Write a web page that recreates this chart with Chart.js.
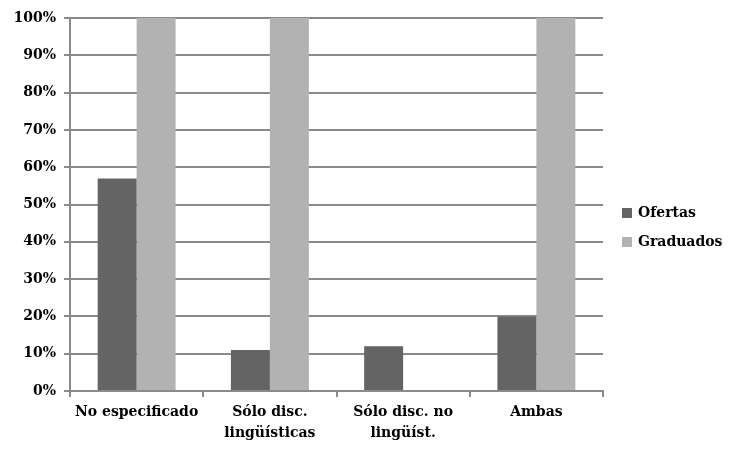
<!DOCTYPE html>
<html>
<head>
<meta charset="utf-8">
<script src="https://cdn.jsdelivr.net/npm/chart.js@4"></script>
<style>
  html, body { margin: 0; padding: 0; background: #fff; }
  #wrap { width: 729px; height: 453px; }
</style>
</head>
<body>
<div id="wrap"><canvas id="c" width="729" height="453"></canvas></div>
<script>
// Categories and series (percent)
const categories = ['No especificado', ['Sólo disc.', 'lingüísticas'], ['Sólo disc. no', 'lingüíst.'], 'Ambas'];
const ofertas = [57, 11, 12, 20];
const graduados = [100, 100, 0, 100];
const seriesNames = ['Ofertas', 'Graduados'];
const seriesColors = ['#646464', '#b2b2b2'];
const yTicks = [0, 10, 20, 30, 40, 50, 60, 70, 80, 90, 100];

const FONT = '"DejaVu Serif", "Liberation Serif", serif';
const GRID = '#8a8a8a';

// Legend drawn to the right of the plot area
const sideLegend = {
  id: 'sideLegend',
  afterDraw(chart) {
    const ctx = chart.ctx;
    const x = chart.chartArea.right + 19;
    const y0 = 213, gap = 29;
    ctx.save();
    ctx.font = 'bold 14px ' + FONT;
    ctx.textBaseline = 'middle';
    ctx.textAlign = 'left';
    chart.data.datasets.forEach((ds, i) => {
      const y = y0 + i * gap;
      ctx.fillStyle = ds.backgroundColor;
      ctx.fillRect(x, y - 5, 10, 10);
      ctx.fillStyle = '#000';
      ctx.fillText(ds.label, x + 16, y);
    });
    ctx.restore();
  }
};

new Chart(document.getElementById('c'), {
  type: 'bar',
  data: {
    labels: categories,
    datasets: [
      { label: seriesNames[0], data: ofertas, backgroundColor: seriesColors[0] },
      { label: seriesNames[1], data: graduados, backgroundColor: seriesColors[1] }
    ]
  },
  options: {
    responsive: false,
    animation: false,
    devicePixelRatio: 1,
    layout: { padding: { top: 18, right: 126, left: 0, bottom: 0 } },
    datasets: { bar: { categoryPercentage: 0.585, barPercentage: 1.0 } },
    plugins: { legend: { display: false }, tooltip: { enabled: false } },
    scales: {
      x: {
        grid: { display: true, drawOnChartArea: false, drawTicks: true, tickLength: 6, color: GRID, lineWidth: 2, offset: true },
        border: { display: true, color: GRID, width: 2 },
        ticks: { color: '#000', font: { family: FONT, weight: 'bold', size: 14, lineHeight: 1.5 }, padding: 5, maxRotation: 0, autoSkip: false },
        afterFit(s) { s.height = 62; }
      },
      y: {
        min: 0, max: 100,
        afterBuildTicks(s) { s.ticks = yTicks.map(v => ({ value: v })); },
        grid: { color: GRID, lineWidth: 2, tickLength: 6, drawTicks: true },
        border: { display: true, color: GRID, width: 2 },
        ticks: {
          color: '#000', padding: 8,
          font: { family: FONT, weight: 'bold', size: 14 },
          callback: v => v + '%'
        },
        afterFit(s) { s.width = 70; }
      }
    }
  },
  plugins: [sideLegend]
});
</script>
</body>
</html>
